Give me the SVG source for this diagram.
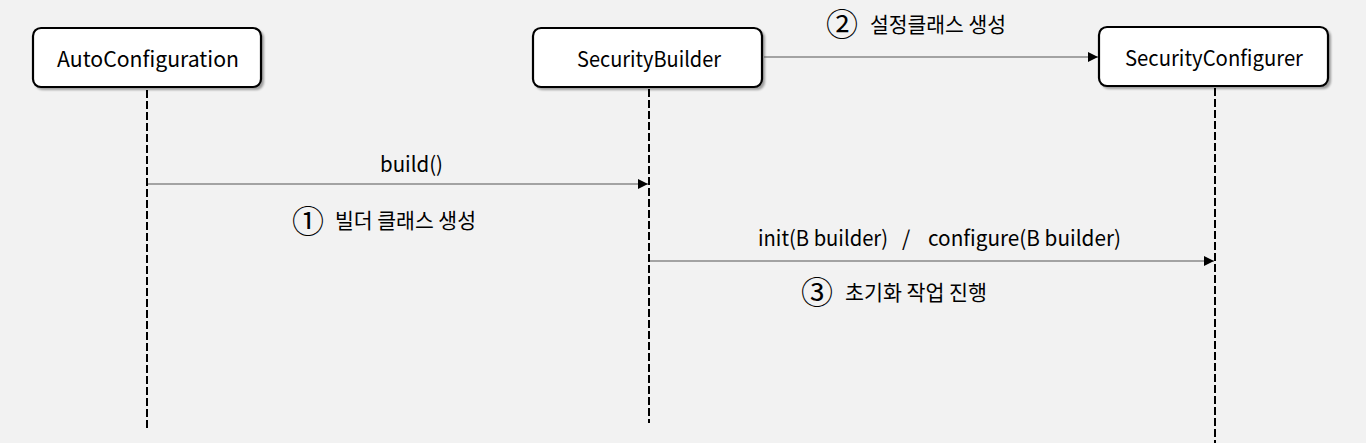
<svg xmlns="http://www.w3.org/2000/svg" width="1366" height="443" viewBox="0 0 1366 443">
<defs>
<style>
.box{fill:#fff;stroke:#000;stroke-width:2.2}
.shadow{fill:#000;opacity:0.35}
.t{font-family:"Noto Sans CJK KR","Noto Sans",sans-serif;font-size:21px;fill:#000}
.n{font-family:"Noto Sans CJK KR","Noto Sans",sans-serif;font-size:32px;fill:#000}
.life{stroke:#000;stroke-width:2;stroke-dasharray:8 3;fill:none}
.msg{stroke:#555;stroke-width:1.2;fill:none}
</style>
<marker id="arr" viewBox="0 0 10 10" refX="10" refY="5" markerWidth="10" markerHeight="10" markerUnits="userSpaceOnUse" orient="auto">
<path d="M0,0 L10,5 L0,10 z" fill="#000"/>
</marker>
<filter id="sh" x="-10%" y="-20%" width="130%" height="150%">
<feGaussianBlur stdDeviation="1.2"/>
</filter>
</defs>
<rect width="1366" height="443" fill="#f2f2f2"/>
<g id="lifelines">
<line class="life" x1="147" y1="90" x2="147" y2="430"/>
<line class="life" x1="649" y1="89" x2="649" y2="423"/>
<line class="life" x1="1215" y1="88" x2="1215" y2="443"/>
</g>
<g id="node-autoconfiguration">
<rect class="shadow" x="35" y="30" width="229" height="60" rx="8" filter="url(#sh)"/>
<rect class="box" x="33" y="28" width="228" height="59" rx="8"/>
<text class="t" x="57" y="67" textLength="182" lengthAdjust="spacingAndGlyphs">AutoConfiguration</text>
</g>
<g id="node-securitybuilder">
<rect class="shadow" x="535" y="30" width="230" height="60" rx="8" filter="url(#sh)"/>
<rect class="box" x="533" y="28" width="229" height="59" rx="8"/>
<text class="t" x="577" y="67" textLength="144" lengthAdjust="spacingAndGlyphs">SecurityBuilder</text>
</g>
<g id="node-securityconfigurer">
<rect class="shadow" x="1101" y="29" width="230" height="60" rx="8" filter="url(#sh)"/>
<rect class="box" x="1099" y="27" width="229" height="59" rx="8"/>
<text class="t" x="1125" y="66" textLength="178" lengthAdjust="spacingAndGlyphs">SecurityConfigurer</text>
</g>
<g id="connectors">
<line class="msg" x1="148" y1="184" x2="648" y2="184" marker-end="url(#arr)"/>
<line class="msg" x1="764" y1="57" x2="1098" y2="57" marker-end="url(#arr)"/>
<line class="msg" x1="650" y1="261" x2="1214" y2="261" marker-end="url(#arr)"/>
</g>
<g id="labels">
<text class="n" x="292" y="233">①</text>
<text class="t" x="380" y="172" textLength="63" lengthAdjust="spacingAndGlyphs">build()</text>
<text class="t" x="335" y="228" textLength="141" lengthAdjust="spacingAndGlyphs">빌더 클래스 생성</text>
<text class="n" x="826" y="36">②</text>
<text class="t" x="870" y="32" textLength="136" lengthAdjust="spacingAndGlyphs">설정클래스 생성</text>
<text class="t" x="758" y="246" textLength="130" lengthAdjust="spacingAndGlyphs">init(B builder)</text>
<text class="t" x="902" y="246">/</text>
<text class="t" x="928" y="246" textLength="193" lengthAdjust="spacingAndGlyphs">configure(B builder)</text>
<text class="n" x="801" y="304">③</text>
<text class="t" x="845" y="300" textLength="142" lengthAdjust="spacingAndGlyphs">초기화 작업 진행</text>
</g>
</svg>
